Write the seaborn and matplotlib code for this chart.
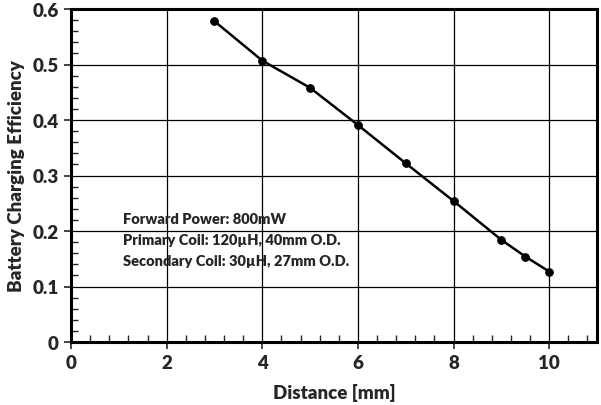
import numpy as np
import pandas as pd
import seaborn as sns
import matplotlib.pyplot as plt
from matplotlib.ticker import MultipleLocator

# Data
distance_mm = [3, 4, 5, 6, 7, 8, 9, 9.5, 10]
efficiency = [0.578, 0.507, 0.458, 0.391, 0.322, 0.254, 0.184, 0.154, 0.127]
notes = ["Forward Power: 800mW",
         "Primary Coil: 120\u00b5H, 40mm O.D.",
         "Secondary Coil: 30\u00b5H, 27mm O.D."]

sns.set_style("white")
plt.rcParams['font.family'] = ['Lato', 'DejaVu Sans']
plt.rcParams['font.weight'] = 'heavy'

df = pd.DataFrame({"Distance": distance_mm, "Efficiency": efficiency})

fig = plt.figure(figsize=(6.01, 4.06), dpi=100)
ax = fig.add_axes([71 / 601, 63 / 406, 526 / 601, 333 / 406])

sns.lineplot(data=df, x="Distance", y="Efficiency", ax=ax, color="black",
             linewidth=1.8, marker="o", markersize=5.5, markeredgecolor="black")

ax.set_xlim(0, 11)
ax.set_ylim(0, 0.6)
ax.xaxis.set_minor_locator(MultipleLocator(0.4))
ax.yaxis.set_minor_locator(MultipleLocator(0.02))
ax.set_yticks([0, 0.1, 0.2, 0.3, 0.4, 0.5, 0.6])
ax.set_yticklabels(["0", "0.1", "0.2", "0.3", "0.4", "0.5", "0.6"])
ax.set_xticks([0, 2, 4, 6, 8, 10])
ax.set_xticklabels(["0", "2", "4", "6", "8", "10"])

ax.grid(True, which="major", color="black", linewidth=0.9)
ax.tick_params(which="major", direction="out", length=5, width=1.2,
               labelsize=13.5, bottom=True, left=True, pad=4)
ax.tick_params(which="minor", direction="in", length=5, width=1.0,
               bottom=True, left=True)
for side in ax.spines.values():
    side.set_color("black")
    side.set_linewidth(2.2)

ax.set_xlabel("Distance [mm]", fontsize=13.5, fontweight="heavy", labelpad=8)
ax.set_ylabel("Battery Charging Efficiency", fontsize=13.5, fontweight="heavy", labelpad=5)

for i, line in enumerate(notes):
    ax.text(1.08, 0.222 - i * 0.038, line, fontsize=10.5, fontweight="heavy",
            va="center", ha="left")

fig.savefig("out.png", dpi=100)
